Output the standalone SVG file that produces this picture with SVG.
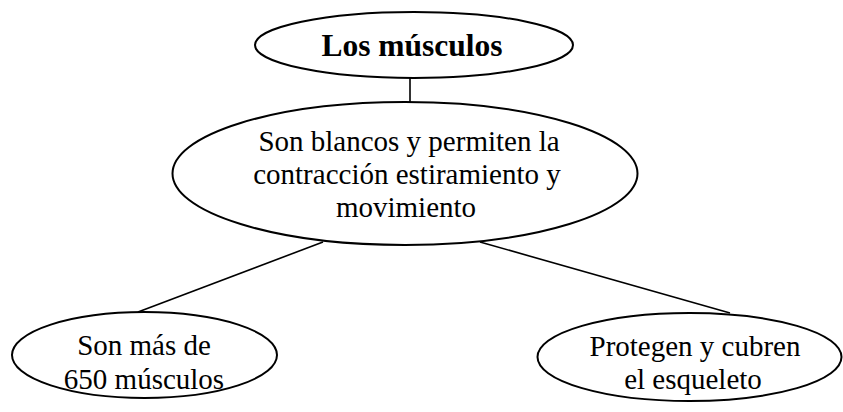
<svg xmlns="http://www.w3.org/2000/svg" width="843" height="412" viewBox="0 0 843 412">
<style>
.n{fill:#fff;stroke:#000;stroke-width:2}
.c{stroke:#000;stroke-width:1.6;fill:none}
.t{font-family:"Liberation Serif","Times New Roman",serif;font-size:29px;fill:#000;text-anchor:middle}
.b{font-weight:bold;font-size:31.5px}
</style>
<rect width="843" height="412" fill="#fff"/>
<g id="connectors">
<line class="c" x1="410" y1="78" x2="410" y2="102"/>
<line class="c" x1="323" y1="242" x2="138" y2="312"/>
<line class="c" x1="480" y1="242" x2="730" y2="313"/>
</g>
<g id="n-musculos">
<ellipse class="n" cx="414" cy="45" rx="159" ry="33"/>
<text class="t b" x="412" y="56">Los músculos</text>
</g>
<g id="n-blancos">
<ellipse class="n" cx="405" cy="173.5" rx="232.5" ry="71.5"/>
<text class="t" x="409" y="151">Son blancos y permiten la</text>
<text class="t" x="407" y="184">contracción estiramiento y</text>
<text class="t" x="406" y="217">movimiento</text>
</g>
<g id="n-650">
<ellipse class="n" cx="144.5" cy="355" rx="132.5" ry="43"/>
<text class="t" x="144" y="355">Son más de</text>
<text class="t" x="144" y="389">650 músculos</text>
</g>
<g id="n-protegen">
<ellipse class="n" cx="689.5" cy="357" rx="152" ry="44"/>
<text class="t" x="695" y="356">Protegen y cubren</text>
<text class="t" x="693" y="389">el esqueleto</text>
</g>
</svg>
